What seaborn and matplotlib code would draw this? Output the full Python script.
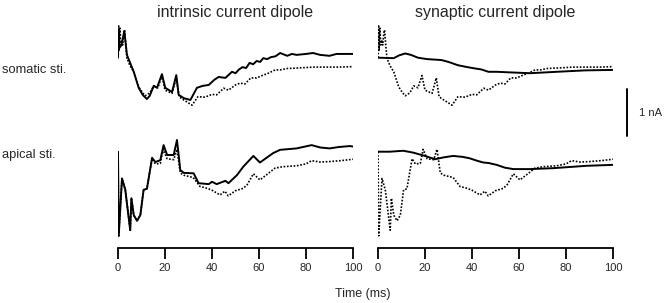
import numpy as np
import pandas as pd
import seaborn as sns
import matplotlib
matplotlib.use("Agg")
import matplotlib.pyplot as plt

# ---- data (nA, relative to the start value) ----
# somatic stimulation
soma_t_intr = [0, 0.3, 0.6, 1.5, 2.7, 3.8, 5, 6.7, 8.8, 10.5, 12.3, 13.5, 15.2, 16.6, 18.7,
               20.1, 23, 24.8, 25.8, 28, 30.8, 33.6, 36, 38.6, 41, 42.8, 45.7, 48.5, 50, 51.5,
               53, 54.5, 56, 57.5, 59, 60.5, 61.8, 63.5, 65, 67, 69, 72, 74, 76, 80, 83,
               86, 90, 93, 96.6, 100]
soma_intr = [0, 0.61, 0.21, 0.27, 0.57, 0.06, -0.09, -0.30, -0.64, -0.79, -0.88, -0.81, -0.60,
             -0.64, -0.35, -0.64, -0.73, -0.37, -0.79, -0.86, -0.90, -0.64, -0.60, -0.58, -0.47,
             -0.41, -0.43, -0.30, -0.33, -0.25, -0.20, -0.22, -0.11, -0.14, -0.07, -0.09, -0.01,
             -0.03, 0.01, 0.03, 0.10, 0.04, 0.08, 0.06, 0.08, 0.10, 0.06, 0.04, 0.08, 0.08, 0.08]

soma_t_syn = [0, 6.7, 9, 11.6, 14, 17, 20.9, 24, 27, 30, 34, 38, 41.4, 44, 47, 50.6, 55, 64.7,
              76, 88, 100]
soma_syn = [0, -0.01, 0.05, 0.09, 0.06, 0, -0.03, -0.04, -0.05, -0.09, -0.16, -0.20, -0.23,
            -0.25, -0.30, -0.30, -0.31, -0.33, -0.30, -0.27, -0.26]

soma_t_total = [0, 0.2, 0.5, 0.8, 1.2, 1.6, 2.0, 2.5, 2.8, 3.3, 3.8, 5, 6.7, 8.8, 10.5, 11.6,
                13.5, 15.2, 17, 18.7, 20, 23, 24.8, 26, 28, 31.5, 34, 37, 40, 42, 45, 47, 50,
                52, 54, 56.5, 59, 61.8, 64, 66.8, 69, 72, 76, 80, 83, 88, 94, 100]
soma_total = [0, 0.70, 0.16, 0.63, 0.27, 0.38, 0.27, 0.53, 0.59, 0.27, -0.01, -0.16, -0.30,
              -0.62, -0.75, -0.81, -0.75, -0.60, -0.64, -0.38, -0.69, -0.76, -0.43, -0.83,
              -0.90, -1.01, -0.83, -0.84, -0.78, -0.79, -0.65, -0.69, -0.58, -0.54, -0.56,
              -0.43, -0.43, -0.37, -0.33, -0.26, -0.26, -0.23, -0.22, -0.21, -0.20, -0.20,
              -0.20, -0.19]

# apical stimulation
apic_t_intr = [0, 0.3, 1.7, 3.1, 5.2, 5.7, 6.7, 8.1, 9.5, 10.9, 12.3, 14.5, 15.9, 18, 19.4,
               20.9, 23.7, 25.1, 26.5, 28, 32.2, 34.3, 38.6, 40, 42, 45.7, 47, 50.6, 53.3,
               57.6, 60.4, 66, 69, 76, 82.4, 86, 90, 94, 98.7, 100]
apic_intr = [0, -1.79, -0.57, -0.81, -1.67, -0.99, -1.35, -1.47, -1.35, -0.81, -0.79, -0.13,
             -0.22, -0.18, 0.14, -0.07, -0.07, 0.25, -0.39, -0.45, -0.46, -0.67, -0.69, -0.64,
             -0.69, -0.62, -0.67, -0.50, -0.32, -0.09, -0.23, -0.03, 0.04, 0.07, 0.14, 0.09,
             0.07, 0.10, 0.12, 0.11]

apic_t_syn = [0, 5, 10.8, 15, 20, 24.3, 28, 32, 36, 39, 42, 44.8, 47, 50.5, 54, 57.6, 64.7,
              74.6, 88.8, 100]
apic_syn = [0, 0, 0.02, -0.02, -0.09, -0.16, -0.12, -0.09, -0.11, -0.14, -0.19, -0.23, -0.24,
            -0.28, -0.34, -0.37, -0.37, -0.35, -0.30, -0.28]

apic_t_total = [0, 0.3, 1.7, 3.1, 5.2, 5.7, 6.7, 8.1, 9.5, 10.9, 12.3, 14.5, 15.9, 18, 19.2,
                20.9, 23.7, 25.1, 26.5, 28, 32, 34.9, 38, 40, 43.4, 45.5, 46.9, 50, 53.3, 55,
                57.6, 60.4, 63, 66.8, 70, 76, 80, 82.4, 86, 90, 95, 100]
apic_total = [0, -1.79, -0.57, -0.81, -1.67, -0.99, -1.35, -1.47, -1.35, -0.81, -0.79, -0.15,
              -0.26, -0.25, 0.05, -0.15, -0.17, 0.05, -0.45, -0.50, -0.55, -0.74, -0.78, -0.82,
              -0.92, -0.84, -0.94, -0.83, -0.78, -0.70, -0.47, -0.60, -0.50, -0.35, -0.32,
              -0.30, -0.26, -0.19, -0.22, -0.21, -0.19, -0.16]

col_titles = ["intrinsic current dipole", "synaptic current dipole"]
row_titles = ["somatic sti.", "apical sti."]
xticks = [0, 20, 40, 60, 80, 100]

sns.set_style("white")
plt.rcParams["font.family"] = ["Liberation Sans", "DejaVu Sans"]

W, H = 665, 303
fig = plt.figure(figsize=(W / 100, H / 100), dpi=100)

S = 47.0  # px per nA
# pixel extents of panels: (x0, x1) for columns, (ytop, ybottom, baseline) for rows
cols_px = [(118, 353), (378, 613)]
rows_px = [(18, 112, 57.7), (132, 248, 151.7)]

panels = [
    [(soma_t_intr, soma_intr), (soma_t_syn, soma_syn)],
    [(apic_t_intr, apic_intr), (apic_t_syn, apic_syn)],
]
totals = [(soma_t_total, soma_total), (apic_t_total, apic_total)]

axes = {}
for r, (yt, yb, base) in enumerate(rows_px):
    for c, (x0, x1) in enumerate(cols_px):
        ax = fig.add_axes([x0 / W, 1 - yb / H, (x1 - x0) / W, (yb - yt) / H])
        ax.set_facecolor("none")
        df_tot = pd.DataFrame({"t": totals[r][0], "v": totals[r][1]})
        sns.lineplot(data=df_tot, x="t", y="v", ax=ax, color="black", linestyle=(0, (1, 1)),
                     linewidth=1.2, sort=False, estimator=None, zorder=2)
        t, v = panels[r][c]
        df = pd.DataFrame({"t": t, "v": v})
        sns.lineplot(data=df, x="t", y="v", ax=ax, color="black", linewidth=1.4,
                     sort=False, estimator=None, zorder=3)
        ax.set_xlim(0, 100)
        ax.set_ylim((base - yb) / S, (base - yt) / S)
        ax.set_xlabel("")
        ax.set_ylabel("")
        ax.set_yticks([])
        for s in ["left", "right", "top"]:
            ax.spines[s].set_visible(False)
        if r == 0:
            ax.spines["bottom"].set_visible(False)
            ax.set_xticks([])
        else:
            ax.spines["bottom"].set_linewidth(1.3)
            ax.spines["bottom"].set_color("black")
            ax.set_xticks(xticks)
            ax.set_xticklabels([str(x) for x in xticks])
            ax.tick_params(axis="x", direction="out", length=8, width=1.3, labelsize=8,
                           pad=3, bottom=True, color="black")
        axes[(r, c)] = ax

# scale bar in the top-right panel (1 nA)
ax = axes[(0, 1)]
ax.plot([106, 106], [-0.666, -1.666], color="black", lw=1.4, clip_on=False)
ax.text(111, -1.166, "1 nA", fontsize=8, ha="left", va="center", clip_on=False)

for c, (x0, x1) in enumerate(cols_px):
    fig.text((x0 + x1) / 2 / W, 1 - 12 / H, col_titles[c], ha="center", va="center", fontsize=11.5)
fig.text(2 / W, 1 - 70 / H, row_titles[0], ha="left", va="center", fontsize=9.3)
fig.text(2 / W, 1 - 155 / H, row_titles[1], ha="left", va="center", fontsize=9.3)
fig.text(363 / W, 1 - 294 / H, "Time (ms)", ha="center", va="center", fontsize=9)

fig.savefig("out.png", dpi=100)
